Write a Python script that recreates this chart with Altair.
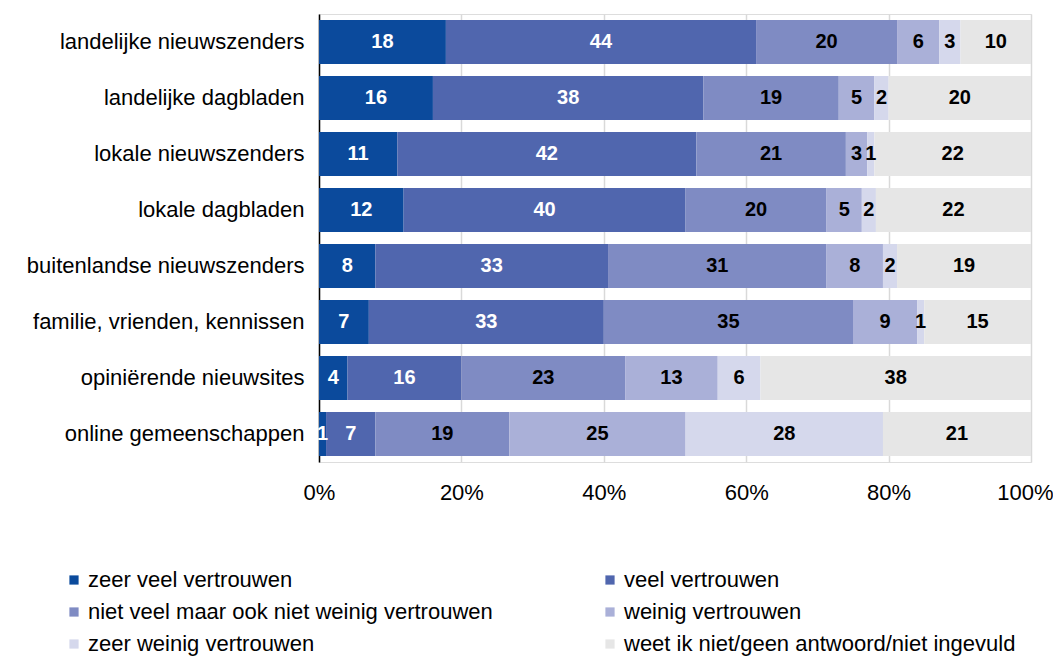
import altair as alt
import pandas as pd

categories = [
    "landelijke nieuwszenders",
    "landelijke dagbladen",
    "lokale nieuwszenders",
    "lokale dagbladen",
    "buitenlandse nieuwszenders",
    "familie, vrienden, kennissen",
    "opiniërende nieuwsites",
    "online gemeenschappen",
]
series = [
    "zeer veel vertrouwen",
    "veel vertrouwen",
    "niet veel maar ook niet weinig vertrouwen",
    "weinig vertrouwen",
    "zeer weinig vertrouwen",
    "weet ik niet/geen antwoord/niet ingevuld",
]
zeer_veel = [18, 16, 11, 12, 8, 7, 4, 1]
veel = [44, 38, 42, 40, 33, 33, 16, 7]
niet_veel = [20, 19, 21, 20, 31, 35, 23, 19]
weinig = [6, 5, 3, 5, 8, 9, 13, 25]
zeer_weinig = [3, 2, 1, 2, 2, 1, 6, 28]
weet_niet = [10, 20, 22, 22, 19, 15, 38, 21]
colors = ["#0B4A9C", "#5066AE", "#7F8BC3", "#AAB0D8", "#D5D8EC", "#E6E6E6"]
text_colors = ["white", "white", "black", "black", "black", "black"]

all_values = [zeer_veel, veel, niet_veel, weinig, zeer_weinig, weet_niet]
rows = []
for si, (s, vals) in enumerate(zip(series, all_values)):
    for ci, c in enumerate(categories):
        rows.append({"cat": c, "series": s, "order": si, "value": vals[ci],
                     "tcolor": text_colors[si]})
df = pd.DataFrame(rows)

# legend fills column by column: reorder so rows read left-to-right
legend_order = [series[i] for i in (0, 2, 4, 1, 3, 5)]
legend_colors = [colors[i] for i in (0, 2, 4, 1, 3, 5)]

FONT = "Liberation Sans"

base = (
    alt.Chart(df)
    .transform_joinaggregate(total="sum(value)", groupby=["cat"])
    .transform_calculate(pct="datum.value / datum.total")
    .transform_stack(stack="pct", groupby=["cat"], sort=[alt.SortField("order")], as_=["x0", "x1"])
    .transform_calculate(mid="(datum.x0 + datum.x1) / 2")
)

y_enc = alt.Y(
    "cat:N",
    sort=categories,
    title=None,
    scale=alt.Scale(paddingInner=0.214, paddingOuter=0.107),
    axis=alt.Axis(
        labelFont=FONT, labelFontSize=22, labelColor="black", labelPadding=15,
        ticks=False, domainColor="black", domainWidth=1.5, labelLimit=400,
    ),
)

bars = base.mark_bar().encode(
    x=alt.X(
        "x0:Q",
        scale=alt.Scale(domain=[0, 1]),
        title=None,
        axis=alt.Axis(
            format=".0%", values=[0, 0.2, 0.4, 0.6, 0.8, 1.0], labelFont=FONT,
            labelFontSize=22, labelColor="black", labelPadding=20, ticks=False,
            labelFlush=False,
            labelOffset={"condition": {"test": "datum.value == 1", "value": -6}, "value": 0},
            domain=False, grid=True, gridColor="#D9D9D9", gridWidth=1.5,
        ),
    ),
    x2="x1:Q",
    y=y_enc,
    color=alt.Color(
        "series:N",
        scale=alt.Scale(domain=legend_order, range=legend_colors),
        legend=alt.Legend(
            title=None, orient="none", legendX=-256, legendY=555, columns=2,
            columnPadding=106, rowPadding=10, symbolType="square", symbolSize=85,
            symbolStrokeWidth=0, labelFont=FONT, labelFontSize=22, labelColor="black",
            labelLimit=700, labelOffset=3,
        ),
    ),
    order=alt.Order("order:Q"),
)

labels = base.mark_text(font=FONT, fontSize=20, fontWeight="bold").encode(
    x="mid:Q",
    y=alt.Y("cat:N", sort=categories),
    text=alt.Text("value:Q"),
    color=alt.Color("tcolor:N", scale=None),
)

chart = (
    alt.layer(bars, labels)
    .properties(
        width=712, height=448,
        autosize=alt.AutoSizeParams(type="none"),
        padding={"left": 311, "top": 6, "right": 22, "bottom": 194},
    )
    .configure_view(stroke=None)
    .configure(background="white")
)

chart.save("out.html", embed_options={"renderer": "svg", "actions": False})
